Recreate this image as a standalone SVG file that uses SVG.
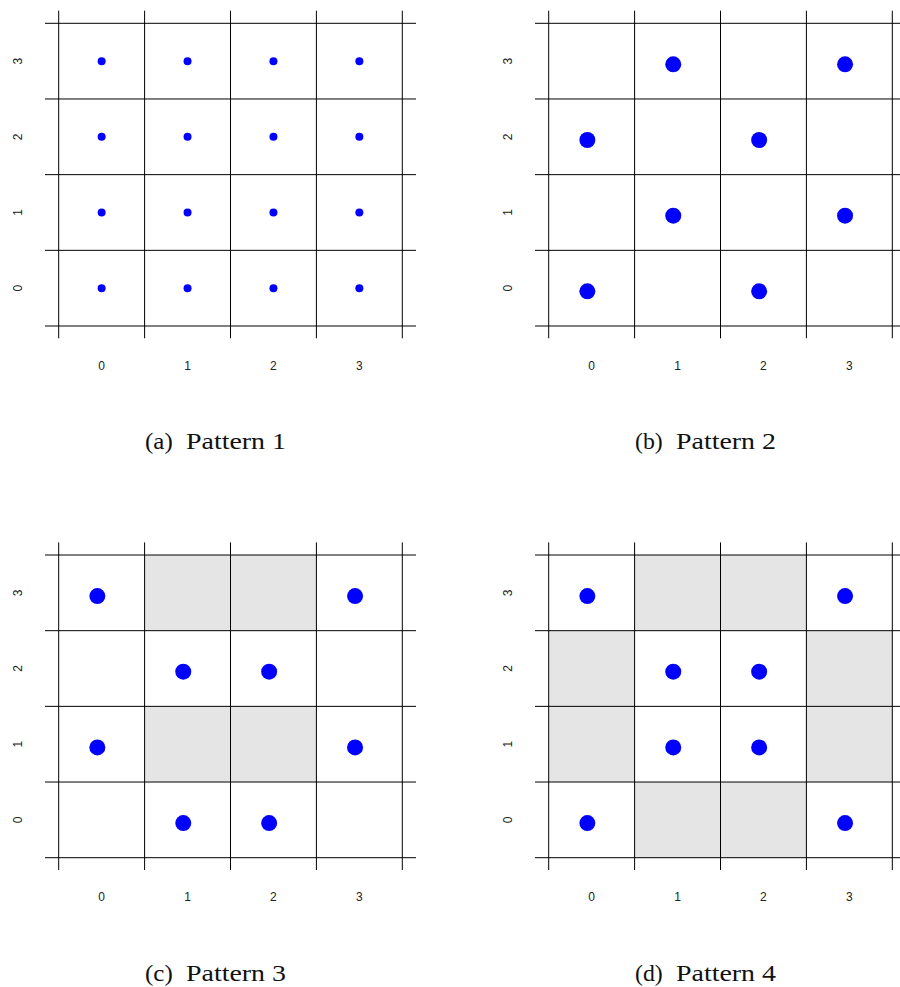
<svg xmlns="http://www.w3.org/2000/svg" xmlns:xlink="http://www.w3.org/1999/xlink" width="900" height="987" viewBox="0 0 900 987">
<style>
.gl{stroke:#000;stroke-width:1;fill:none}
.sh{fill:#e5e5e5;stroke:none}
.dt{fill:#0000ff}
.tk{font-family:"Liberation Sans",Arial,sans-serif;font-size:12px;fill:#222;text-anchor:middle}
.cp{font-family:"Liberation Serif","Times New Roman",serif;font-size:24px;fill:#111}
</style>
<defs>
<g id="grid">
<line class="gl" x1="58.7" y1="10.7" x2="58.7" y2="338.3"/>
<line class="gl" x1="144.6" y1="10.7" x2="144.6" y2="338.3"/>
<line class="gl" x1="230.5" y1="10.7" x2="230.5" y2="338.3"/>
<line class="gl" x1="316.4" y1="10.7" x2="316.4" y2="338.3"/>
<line class="gl" x1="402.3" y1="10.7" x2="402.3" y2="338.3"/>
<line class="gl" x1="45" y1="23.3" x2="416" y2="23.3"/>
<line class="gl" x1="45" y1="98.98" x2="416" y2="98.98"/>
<line class="gl" x1="45" y1="174.65" x2="416" y2="174.65"/>
<line class="gl" x1="45" y1="250.33" x2="416" y2="250.33"/>
<line class="gl" x1="45" y1="326" x2="416" y2="326"/>
</g>
</defs>

<g id="panel-a">
<use xlink:href="#grid" href="#grid"/>
<g id="dots-a">
<circle class="dt" cx="101.65" cy="61.14" r="4"/><circle class="dt" cx="187.55" cy="61.14" r="4"/><circle class="dt" cx="273.45" cy="61.14" r="4"/><circle class="dt" cx="359.35" cy="61.14" r="4"/>
<circle class="dt" cx="101.65" cy="136.81" r="4"/><circle class="dt" cx="187.55" cy="136.81" r="4"/><circle class="dt" cx="273.45" cy="136.81" r="4"/><circle class="dt" cx="359.35" cy="136.81" r="4"/>
<circle class="dt" cx="101.65" cy="212.49" r="4"/><circle class="dt" cx="187.55" cy="212.49" r="4"/><circle class="dt" cx="273.45" cy="212.49" r="4"/><circle class="dt" cx="359.35" cy="212.49" r="4"/>
<circle class="dt" cx="101.65" cy="288.16" r="4"/><circle class="dt" cx="187.55" cy="288.16" r="4"/><circle class="dt" cx="273.45" cy="288.16" r="4"/><circle class="dt" cx="359.35" cy="288.16" r="4"/>
</g>
<g id="ticks-a">
<text class="tk" x="101.65" y="369.8">0</text><text class="tk" x="187.55" y="369.8">1</text><text class="tk" x="273.45" y="369.8">2</text><text class="tk" x="359.35" y="369.8">3</text>
<text class="tk" transform="translate(21.6,288.16) rotate(-90)">0</text>
<text class="tk" transform="translate(21.6,212.49) rotate(-90)">1</text>
<text class="tk" transform="translate(21.6,136.81) rotate(-90)">2</text>
<text class="tk" transform="translate(21.6,61.14) rotate(-90)">3</text>
</g>
<text class="cp" y="449.3"><tspan x="145" textLength="27.7" lengthAdjust="spacingAndGlyphs">(a)</tspan><tspan x="186" textLength="100" lengthAdjust="spacingAndGlyphs">Pattern 1</tspan></text>
</g>

<g id="panel-b" transform="translate(490,0)">
<use xlink:href="#grid" href="#grid"/>
<g id="dots-b">
<circle class="dt" cx="183.25" cy="64.34" r="8"/><circle class="dt" cx="355.05" cy="64.34" r="8"/>
<circle class="dt" cx="97.35" cy="140.01" r="8"/><circle class="dt" cx="269.15" cy="140.01" r="8"/>
<circle class="dt" cx="183.25" cy="215.69" r="8"/><circle class="dt" cx="355.05" cy="215.69" r="8"/>
<circle class="dt" cx="97.35" cy="291.36" r="8"/><circle class="dt" cx="269.15" cy="291.36" r="8"/>
</g>
<g id="ticks-b">
<text class="tk" x="101.65" y="369.8">0</text><text class="tk" x="187.55" y="369.8">1</text><text class="tk" x="273.45" y="369.8">2</text><text class="tk" x="359.35" y="369.8">3</text>
<text class="tk" transform="translate(21.6,288.16) rotate(-90)">0</text>
<text class="tk" transform="translate(21.6,212.49) rotate(-90)">1</text>
<text class="tk" transform="translate(21.6,136.81) rotate(-90)">2</text>
<text class="tk" transform="translate(21.6,61.14) rotate(-90)">3</text>
</g>
<text class="cp" y="449.3"><tspan x="145" textLength="27.7" lengthAdjust="spacingAndGlyphs">(b)</tspan><tspan x="186" textLength="100" lengthAdjust="spacingAndGlyphs">Pattern 2</tspan></text>
</g>

<g id="panel-c" transform="translate(0,531.7)">
<rect class="sh" x="144.6" y="23.3" width="171.8" height="75.68"/>
<rect class="sh" x="144.6" y="174.65" width="171.8" height="75.68"/>
<use xlink:href="#grid" href="#grid"/>
<g id="dots-c">
<circle class="dt" cx="97.35" cy="64.34" r="8"/><circle class="dt" cx="355.05" cy="64.34" r="8"/>
<circle class="dt" cx="183.25" cy="140.01" r="8"/><circle class="dt" cx="269.15" cy="140.01" r="8"/>
<circle class="dt" cx="97.35" cy="215.69" r="8"/><circle class="dt" cx="355.05" cy="215.69" r="8"/>
<circle class="dt" cx="183.25" cy="291.36" r="8"/><circle class="dt" cx="269.15" cy="291.36" r="8"/>
</g>
<g id="ticks-c">
<text class="tk" x="101.65" y="369.8">0</text><text class="tk" x="187.55" y="369.8">1</text><text class="tk" x="273.45" y="369.8">2</text><text class="tk" x="359.35" y="369.8">3</text>
<text class="tk" transform="translate(21.6,288.16) rotate(-90)">0</text>
<text class="tk" transform="translate(21.6,212.49) rotate(-90)">1</text>
<text class="tk" transform="translate(21.6,136.81) rotate(-90)">2</text>
<text class="tk" transform="translate(21.6,61.14) rotate(-90)">3</text>
</g>
<text class="cp" y="449.3"><tspan x="145" textLength="27.7" lengthAdjust="spacingAndGlyphs">(c)</tspan><tspan x="186" textLength="100" lengthAdjust="spacingAndGlyphs">Pattern 3</tspan></text>
</g>

<g id="panel-d" transform="translate(490,531.7)">
<rect class="sh" x="144.6" y="23.3" width="171.8" height="75.68"/>
<rect class="sh" x="58.7" y="98.98" width="85.9" height="151.35"/>
<rect class="sh" x="316.4" y="98.98" width="85.9" height="151.35"/>
<rect class="sh" x="144.6" y="250.33" width="171.8" height="75.67"/>
<use xlink:href="#grid" href="#grid"/>
<g id="dots-d">
<circle class="dt" cx="97.35" cy="64.34" r="8"/><circle class="dt" cx="355.05" cy="64.34" r="8"/>
<circle class="dt" cx="183.25" cy="140.01" r="8"/><circle class="dt" cx="269.15" cy="140.01" r="8"/>
<circle class="dt" cx="183.25" cy="215.69" r="8"/><circle class="dt" cx="269.15" cy="215.69" r="8"/>
<circle class="dt" cx="97.35" cy="291.36" r="8"/><circle class="dt" cx="355.05" cy="291.36" r="8"/>
</g>
<g id="ticks-d">
<text class="tk" x="101.65" y="369.8">0</text><text class="tk" x="187.55" y="369.8">1</text><text class="tk" x="273.45" y="369.8">2</text><text class="tk" x="359.35" y="369.8">3</text>
<text class="tk" transform="translate(21.6,288.16) rotate(-90)">0</text>
<text class="tk" transform="translate(21.6,212.49) rotate(-90)">1</text>
<text class="tk" transform="translate(21.6,136.81) rotate(-90)">2</text>
<text class="tk" transform="translate(21.6,61.14) rotate(-90)">3</text>
</g>
<text class="cp" y="449.3"><tspan x="145" textLength="27.7" lengthAdjust="spacingAndGlyphs">(d)</tspan><tspan x="186" textLength="100" lengthAdjust="spacingAndGlyphs">Pattern 4</tspan></text>
</g>
</svg>
